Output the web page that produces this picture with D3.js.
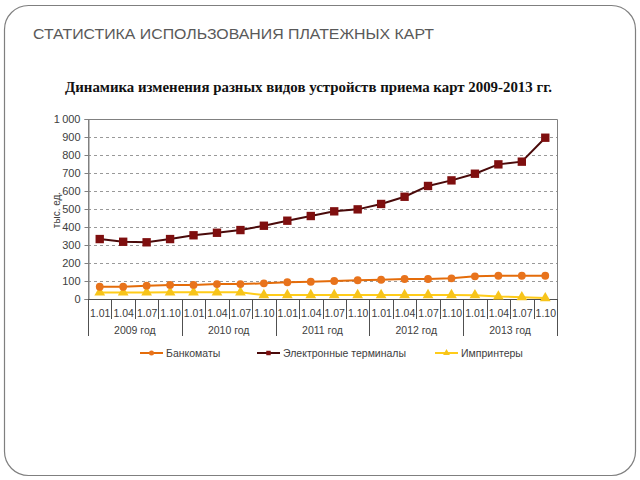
<!DOCTYPE html>
<html><head><meta charset="utf-8">
<script src="https://cdn.jsdelivr.net/npm/d3@7"></script>
<style>html,body{margin:0;padding:0;background:#fff;}svg{display:block;}</style>
</head><body>
<script>
const years = ["2009 год","2010 год","2011 год","2012 год","2013 год"];
const quarters = ["1.01","1.04","1.07","1.10"];
const yTicks = [0,100,200,300,400,500,600,700,800,900,1000];
const seriesNames = ["Банкоматы","Электронные терминалы","Импринтеры"];
const atms = [68,68,74,78,78,83,83,87,93,96,100,104,107,111,111,115,126,129,129,129];
const terminals = [333,318,315,333,354,368,383,407,435,461,487,498,528,568,628,659,696,748,763,896];
const imprinters = [36,36,36,37,37,37,37,22,22,22,22,22,22,22,22,22,21,14,10,5];

const categories = [];
years.forEach((y,yi)=>quarters.forEach(q=>categories.push({key:y+"|"+q, year:y, q:q})));

const W=640,H=480;
const svg=d3.select("body").append("svg").attr("width",W).attr("height",H);
const font="'Liberation Sans', Arial, sans-serif";

// frame
svg.append("rect").attr("x",4.5).attr("y",5.5).attr("width",631).attr("height",470)
  .attr("rx",24).attr("fill","#fff").attr("stroke","#7f7f7f").attr("stroke-width",1.2);

svg.append("text").attr("x",33).attr("y",39).attr("font-family",font).attr("font-size",15)
  .attr("fill","#595959").attr("textLength",401).attr("lengthAdjust","spacingAndGlyphs")
  .text("СТАТИСТИКА ИСПОЛЬЗОВАНИЯ ПЛАТЕЖНЫХ КАРТ");

svg.append("text").attr("x",65).attr("y",92).attr("font-family","'Liberation Serif','DejaVu Serif',serif")
  .attr("font-size",14.5).attr("font-weight","bold").attr("fill","#111")
  .attr("textLength",487).attr("lengthAdjust","spacingAndGlyphs")
  .text("Динамика изменения разных видов устройств приема карт 2009-2013 гг.");

const L=88,R=557,T=119,B=299;
const x=d3.scaleBand().domain(categories.map(d=>d.key)).range([L,R]);
const y=d3.scaleLinear().domain([0,1000]).range([B,T]);
const cx=i=>x(categories[i].key)+x.bandwidth()/2;

// gridlines
const g=svg.append("g");
g.selectAll("line.grid").data(yTicks.filter(t=>t>0&&t<1000)).join("line")
  .attr("x1",L).attr("x2",R).attr("y1",d=>y(d)+0.5).attr("y2",d=>y(d)+0.5)
  .attr("stroke","#999").attr("stroke-dasharray","3,3").attr("stroke-width",1);
// plot border top/right/left
svg.append("path").attr("d",`M${L+0.5},${B}V${y(1000)+0.5}H${R+0.5}V${B}`)
  .attr("fill","none").attr("stroke","#808080").attr("stroke-width",1);

// y axis
const yAxis=d3.axisLeft(y).tickValues(yTicks).tickSize(4)
  .tickFormat(d=>d3.format(",")(d).replace(",","\u2009"));
const ya=svg.append("g").attr("transform",`translate(${L+0.5},0)`).call(yAxis);
ya.select(".domain").attr("stroke","#808080");
ya.selectAll(".tick line").attr("stroke","#808080");
ya.selectAll("text").attr("font-family",font).attr("font-size",11).attr("fill","#404040").attr("dx",-1);

svg.append("text").attr("transform","translate(60,210) rotate(-90)").attr("text-anchor","middle")
  .attr("font-family",font).attr("font-size",10).attr("fill","#404040").text("тыс. ед.");

// x axis baseline
svg.append("line").attr("x1",L).attr("x2",R+1).attr("y1",B+0.5).attr("y2",B+0.5).attr("stroke","#505050");
// category separators
const seps=d3.range(categories.length+1);
svg.selectAll("line.sep").data(seps).join("line")
  .attr("x1",i=>Math.round(L+i*x.bandwidth())+0.5).attr("x2",i=>Math.round(L+i*x.bandwidth())+0.5)
  .attr("y1",B).attr("y2",i=>i%4===0?336:319).attr("stroke","#505050").attr("stroke-width",1);
svg.selectAll("text.cat").data(categories).join("text")
  .attr("x",(d,i)=>cx(i)+0.5).attr("y",317).attr("text-anchor","middle")
  .attr("font-family",font).attr("font-size",10.5).attr("fill","#404040").text(d=>d.q);
svg.selectAll("text.yr").data(years).join("text")
  .attr("x",(d,i)=>L+(i*4+2)*x.bandwidth()).attr("y",334).attr("text-anchor","middle")
  .attr("font-family",font).attr("font-size",10.5).attr("fill","#404040").text(d=>d);

// series
const line=d3.line().x((d,i)=>cx(i)).y(d=>y(d));
const series=[
  {name:seriesNames[0],vals:atms,line:"#E46C0A",fill:"#E8731C",shape:d3.symbolCircle,size:48},
  {name:seriesNames[1],vals:terminals,line:"#4a0a0a",fill:"#7F0F0F",shape:d3.symbolSquare,size:70},
  {name:seriesNames[2],vals:imprinters,line:"#FFCC1A",fill:"#F7C41A",shape:d3.symbolTriangle,size:50}
];
// draw order: imprinters, atms, terminals
[series[2],series[0],series[1]].forEach(s=>{
  svg.append("path").datum(s.vals).attr("d",line).attr("fill","none")
    .attr("stroke",s.line).attr("stroke-width",2);
  svg.selectAll(null).data(s.vals).join("path")
    .attr("transform",(d,i)=>`translate(${cx(i)},${y(d)})`)
    .attr("d",d3.symbol(s.shape,s.size)).attr("fill",s.fill);
});

// legend
const leg=[{s:series[0],x:140},{s:series[1],x:257},{s:series[2],x:435}];
leg.forEach(l=>{
  const gg=svg.append("g").attr("transform",`translate(${l.x},353)`);
  gg.append("line").attr("x1",0).attr("x2",23).attr("y1",0).attr("y2",0).attr("stroke",l.s.line).attr("stroke-width",2);
  gg.append("path").attr("transform","translate(11.5,0)").attr("d",d3.symbol(l.s.shape,20)).attr("fill",l.s.fill);
  gg.append("text").attr("x",26).attr("y",4).attr("font-family",font).attr("font-size",10.5)
    .attr("fill","#404040").text(l.s.name);
});
</script>
</body></html>
